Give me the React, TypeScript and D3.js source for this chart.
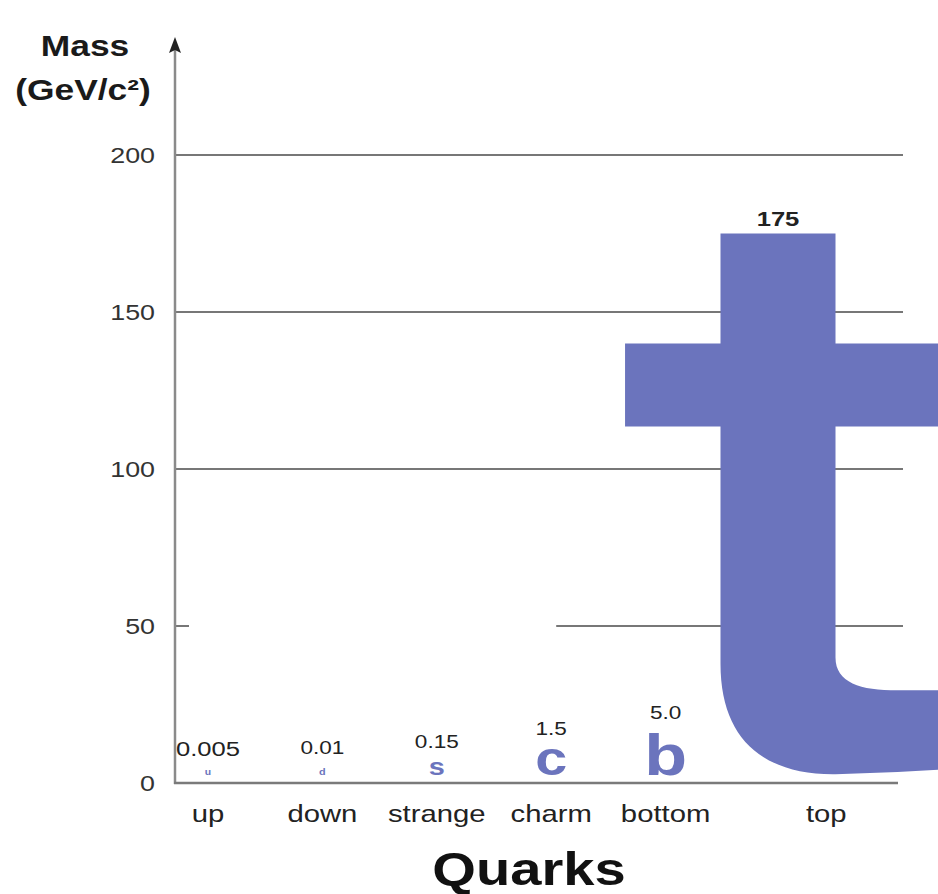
import { useEffect, useRef } from 'react';
import * as d3 from 'd3';

// quark masses in GeV/c^2
const quarks = ['up', 'down', 'strange', 'charm', 'bottom', 'top'];
const letters = ['u', 'd', 's', 'c', 'b', 't'];
const masses = [0.005, 0.01, 0.15, 1.5, 5.0, 175];
const massLabels = ['0.005', '0.01', '0.15', '1.5', '5.0', '175'];
const yTicks = [0, 50, 100, 150, 200];

const W = 938;
const H = 894;
const FONT = '"Liberation Sans", Arial, sans-serif';
const BLUE = '#6b74bd';
const SX = 1.22; // the reference text is a bit stretched sideways

const App = () => {
  const ref = useRef<SVGSVGElement>(null);

  useEffect(() => {
    document.body.style.margin = '0';

    const svg = d3.select(ref.current)
      .attr('width', W)
      .attr('height', H)
      .style('display', 'block')
      .style('overflow', 'hidden');
    svg.selectAll('*').remove();

    const axisX = 175;
    const right = 903;

    const y = d3.scaleLinear().domain([0, 200]).range([783, 155]);
    const x = d3.scalePoint().domain(quarks).range([208, 780]);

    // letter height grows roughly with the cube root of the mass
    const size = d3.scalePow().exponent(0.3).domain([0, 5]).range([0, 42]);

    const text = (
      parent: any, tx: number, ty: number, s: string,
      fs: number, weight: string | number, fill: string, anchor = 'middle'
    ) => parent.append('text')
      .attr('transform', `translate(${tx},${ty}) scale(${SX},1)`)
      .attr('text-anchor', anchor)
      .attr('font-family', FONT)
      .attr('font-size', fs)
      .attr('font-weight', weight)
      .attr('fill', fill)
      .text(s);

    /** grid */
    const grid = svg.append('g').attr('stroke', '#4a4a4a').attr('stroke-width', 1.5);
    grid.selectAll('line')
      .data(yTicks.filter((d) => d > 50))
      .join('line')
      .attr('x1', axisX)
      .attr('x2', right)
      .attr('y1', (d) => y(d))
      .attr('y2', (d) => y(d));
    // the 50 line is only a stub at the axis and a piece on the right
    grid.append('line')
      .attr('x1', axisX).attr('x2', axisX + 14)
      .attr('y1', y(50)).attr('y2', y(50));
    grid.append('line')
      .attr('x1', x('charm')! + 5).attr('x2', right)
      .attr('y1', y(50)).attr('y2', y(50));

    /** the big t */
    const cx = x('top')! - 2;
    const w = 115;
    const L = cx - w / 2;
    const R = cx + w / 2;
    const far = R + 1.3 * w;
    const t = d3.path();
    t.moveTo(L, y(175));
    t.lineTo(R, y(175));
    t.lineTo(R, y(140));
    t.lineTo(far, y(140));
    t.lineTo(far, y(113.5));
    t.lineTo(R, y(113.5));
    t.lineTo(R, y(40));
    t.bezierCurveTo(R, y(32), R + 25, y(29.5), R + 62, y(29.5));
    t.lineTo(far, y(29.5));
    t.lineTo(far, y(5));
    t.lineTo(R + 62, y(3.5));
    t.lineTo(R, y(2.8));
    t.bezierCurveTo(R - 72, y(2.5), L, y(14), L, y(38));
    t.lineTo(L, y(113.5));
    t.lineTo(L - 0.83 * w, y(113.5));
    t.lineTo(L - 0.83 * w, y(140));
    t.lineTo(L, y(140));
    t.closePath();
    svg.append('path').attr('d', t.toString()).attr('fill', BLUE);

    /** axes */
    svg.append('line')
      .attr('x1', axisX).attr('x2', axisX)
      .attr('y1', y(0) + 1).attr('y2', 48)
      .attr('stroke', '#8a8a8a').attr('stroke-width', 2.5);
    svg.append('path')
      .attr('d', `M${axisX},37 L${axisX + 6},53 L${axisX},50 L${axisX - 6},53 Z`)
      .attr('fill', '#222');
    svg.append('line')
      .attr('x1', axisX - 1).attr('x2', 898)
      .attr('y1', y(0)).attr('y2', y(0))
      .attr('stroke', '#7a7a7a').attr('stroke-width', 2.5);

    yTicks.forEach((d) => {
      text(svg, 155, y(d) + 8, String(d), 22, 400, '#333', 'end');
    });

    text(svg, 85, 56, 'Mass', 29, 700, '#1a1a1a');
    text(svg, 83, 100, '(GeV/c²)', 29, 700, '#1a1a1a');

    /** small letters + mass labels */
    const base = y(0) - 8;
    quarks.forEach((q, i) => {
      const px = x(q)!;
      if (letters[i] !== 't') {
        const h = size(masses[i]);
        const tall = /[bdfhklt]/.test(letters[i]);
        const fs = h / (tall ? 0.73 : 0.62);
        const ink = tall ? h : h * 0.88;
        text(svg, px, base, letters[i], fs, 700, BLUE);
        text(svg, px, base - ink - 14, massLabels[i], i === 0 ? 21 : 18.5, 400, '#222');
      } else {
        text(svg, cx, y(175) - 8, massLabels[i], 21, 700, '#222');
      }
      const lx = letters[i] === 't' ? cx + 0.42 * w : px;
      text(svg, lx, 822, q, 24, 400, '#222');
    });

    text(svg, 529, 885, 'Quarks', 46, 700, '#111');
  }, []);

  return (
    <div>
      <svg ref={ref}></svg>
    </div>
  );
};

export default App;
